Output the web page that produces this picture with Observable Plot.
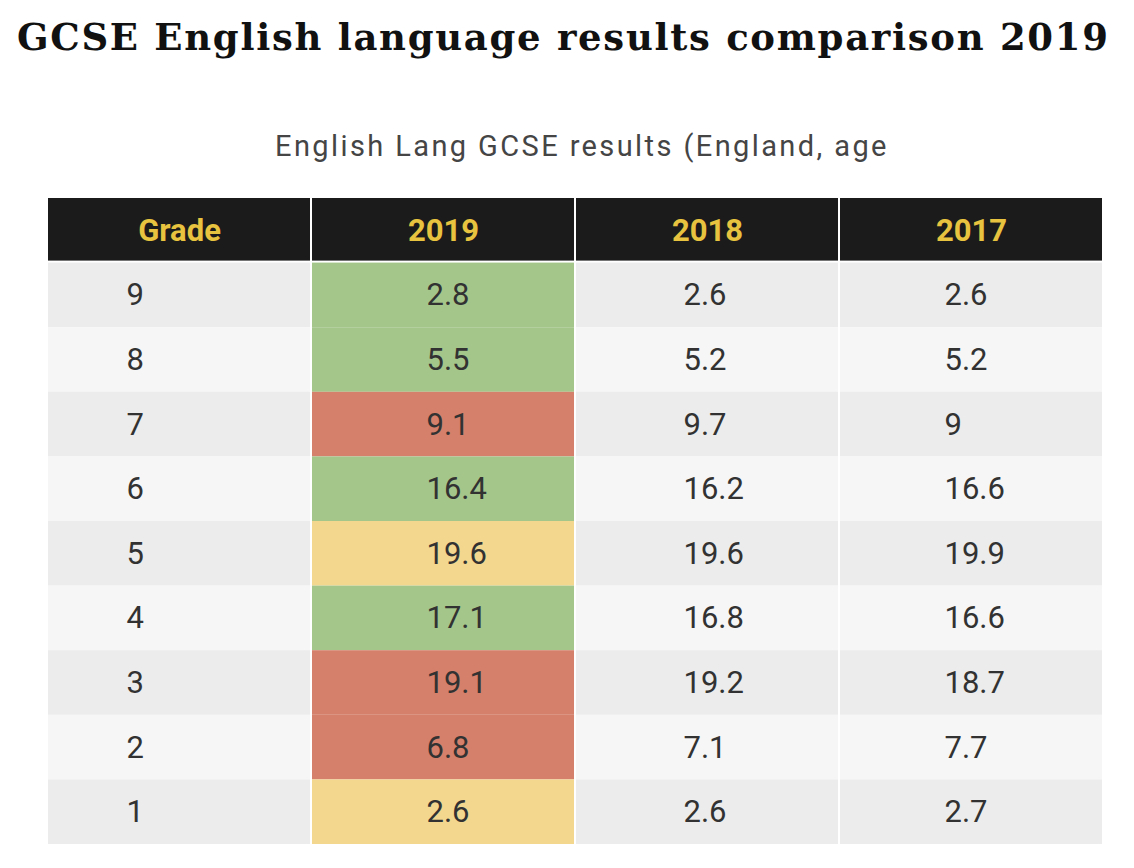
<!DOCTYPE html>
<html>
<head>
<meta charset="utf-8">
<script src="https://cdn.jsdelivr.net/npm/d3@7"></script>
<script src="https://cdn.jsdelivr.net/npm/@observablehq/plot@0.6"></script>
<style>
  html, body { margin: 0; padding: 0; background: #fff; width: 1134px; height: 868px; overflow: hidden; }
  #wrap { position: relative; width: 1134px; height: 868px; }
  #title { position: absolute; left: 17px; top: 15px; margin: 0; text-align: left;
    font-family: "DejaVu Serif", serif; font-weight: bold; font-size: 37px; line-height: 44px; color: #111; letter-spacing: 1.7px; white-space: nowrap; }
  #subtitle { position: absolute; left: 275px; top: 128px; margin: 0; text-align: left;
    font-family: Roboto, sans-serif; font-size: 29px; line-height: 36px; color: #454545; letter-spacing: 2.4px; white-space: nowrap; }
  #chart { position: absolute; left: 0; top: 190px; }
</style>
</head>
<body>
<div id="wrap">
  <h1 id="title">GCSE English language results comparison 2019</h1>
  <div id="subtitle">English Lang GCSE results (England, age</div>
  <div id="chart"></div>
</div>
<script>
const columns = ["Grade", "2019", "2018", "2017"];
const grades = ["9", "8", "7", "6", "5", "4", "3", "2", "1"];
const v2019 = [2.8, 5.5, 9.1, 16.4, 19.6, 17.1, 19.1, 6.8, 2.6];
const v2018 = [2.6, 5.2, 9.7, 16.2, 19.6, 16.8, 19.2, 7.1, 2.6];
const v2017 = [2.6, 5.2, 9, 16.6, 19.9, 16.6, 18.7, 7.7, 2.7];

const colorKeys = ["odd", "even", "up", "down", "same"];
const colorRange = ["#ececec", "#f6f6f6", "#a5c68b", "#d5806a", "#f3d78f"];

// 2019 cells coloured by comparison with 2018
const status2019 = v2019.map((v, i) => v > v2018[i] ? "up" : v < v2018[i] ? "down" : "same");

const bodyCells = [];
grades.forEach((g, i) => {
  columns.forEach(c => {
    bodyCells.push({
      col: c,
      row: g,
      key: c === "2019" ? status2019[i] : (i % 2 === 0 ? "odd" : "even")
    });
  });
});

const rows = grades.map((g, i) => ({ grade: g, y2019: v2019[i], y2018: v2018[i], y2017: v2017[i] }));
const fmt = v => String(v);
const textColor = "#323232";
const font = "Roboto, sans-serif";

const chart = Plot.plot({
  width: 1134,
  height: 678,
  marginTop: 8,
  marginBottom: 24,
  marginLeft: 47,
  marginRight: 31,
  x: { type: "band", domain: columns, padding: 0, round: false, axis: null },
  y: { type: "band", domain: ["header", ...grades], padding: 0, round: false, axis: null },
  color: { domain: colorKeys, range: colorRange },
  style: { background: "transparent", fontFamily: font },
  marks: [
    Plot.cell(bodyCells, { x: "col", y: "row", fill: "key", insetLeft: 1, insetRight: 1 }),
    Plot.cell(columns, { x: d => d, y: () => "header", fill: "#1b1b1b", insetLeft: 1, insetRight: 1, insetBottom: 2 }),
    Plot.text(columns, { x: d => d, y: () => "header", text: d => d, fill: "#e7c33f", fontSize: 31, fontWeight: "bold" }),
    Plot.text(rows, { x: () => "Grade", y: "grade", text: "grade", fill: textColor, fontSize: 31, textAnchor: "start", dx: -53 }),
    Plot.text(rows, { x: () => "2019", y: "grade", text: d => fmt(d.y2019), fill: textColor, fontSize: 31, textAnchor: "start", dx: -17 }),
    Plot.text(rows, { x: () => "2018", y: "grade", text: d => fmt(d.y2018), fill: textColor, fontSize: 31, textAnchor: "start", dx: -24 }),
    Plot.text(rows, { x: () => "2017", y: "grade", text: d => fmt(d.y2017), fill: textColor, fontSize: 31, textAnchor: "start", dx: -27 })
  ]
});
document.getElementById("chart").appendChild(chart);
</script>
</body>
</html>
